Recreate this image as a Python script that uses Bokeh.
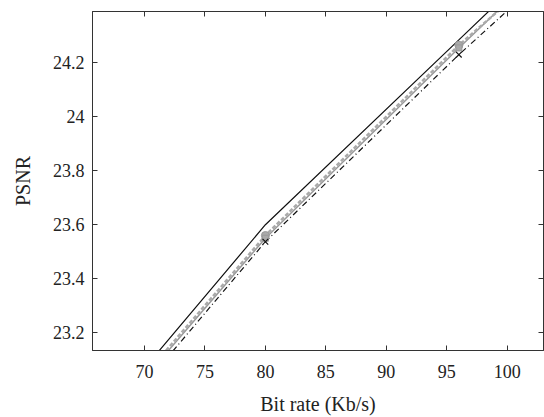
from bokeh.plotting import figure
from bokeh.models import Range1d, FixedTicker, LinearAxis
from bokeh.embed import file_html
from bokeh.resources import INLINE

# Data (bit rate in Kb/s vs PSNR)
bitrate = [64, 80, 96, 112]
psnr_a = [22.75, 23.60, 24.285, 24.97]   # black solid
psnr_b = [22.72, 23.55, 24.255, 24.94]   # gray solid
psnr_c = [22.73, 23.56, 24.265, 24.89]   # gray dashed, circles
psnr_d = [22.69, 23.537, 24.230, 24.88]  # black dash-dot, crosses

x_ticks = [70, 75, 80, 85, 90, 95, 100]
y_ticks = [23.2, 23.4, 23.6, 23.8, 24.0, 24.2]
y_tick_labels = ["23.2", "23.4", "23.6", "23.8", "24", "24.2"]

FONT = "Liberation Serif"

p = figure(width=544, height=417, output_backend="svg", toolbar_location=None,
           x_range=Range1d(65.7, 103.0), y_range=Range1d(23.134, 24.39),
           min_border_left=92, min_border_right=1, min_border_top=11, min_border_bottom=64)

p.grid.visible = False
p.outline_line_color = "#333333"
p.outline_line_width = 1

for ax in (p.xaxis, p.yaxis):
    ax.major_tick_in = 5
    ax.major_tick_out = 0
    ax.minor_tick_line_color = None
    ax.axis_line_color = "#333333"
    ax.major_tick_line_color = "#333333"
    ax.major_label_text_font = FONT
    ax.major_label_text_font_size = "18px"
    ax.major_label_text_color = "#222222"
    ax.axis_label_text_font = FONT
    ax.axis_label_text_font_size = "20px"
    ax.axis_label_text_font_style = "normal"
    ax.axis_label_text_color = "#222222"

p.xaxis.ticker = FixedTicker(ticks=x_ticks)
p.yaxis.ticker = FixedTicker(ticks=y_ticks)
p.yaxis.major_label_overrides = {t: l for t, l in zip(y_ticks, y_tick_labels)}
p.xaxis.axis_label = "Bit rate (Kb/s)"
p.yaxis.axis_label = "PSNR"
p.xaxis.major_label_standoff = 14
p.yaxis.major_label_standoff = 8
p.xaxis.axis_label_standoff = 12
p.yaxis.axis_label_standoff = 16

# mirrored ticks on top and right (labels not drawn)
for loc, tk in (("above", x_ticks), ("right", y_ticks)):
    a = LinearAxis(ticker=FixedTicker(ticks=tk))
    a.major_tick_in = 5
    a.major_tick_out = 0
    a.minor_tick_line_color = None
    a.axis_line_color = "#333333"
    a.major_tick_line_color = "#333333"
    a.major_label_text_font_size = "1px"
    a.major_label_text_color = None
    a.major_label_text_alpha = 0
    a.major_label_standoff = 0
    p.add_layout(a, loc)

p.line(bitrate, psnr_a, line_color="#111111", line_width=1.2)
p.line(bitrate, psnr_b, line_color="#999999", line_width=1.5)
p.line(bitrate, psnr_c, line_color="#aaaaaa", line_width=2.5, line_dash="4 2")
p.line(bitrate, psnr_d, line_color="#111111", line_width=1.2, line_dash="6 3 1 3")
p.scatter(bitrate, psnr_c, marker="circle", size=8, fill_color="#aaaaaa", line_color="#999999")
p.scatter(bitrate, psnr_b, marker="square", size=6, fill_color="#aaaaaa", line_color="#999999")
p.scatter(bitrate, psnr_d, marker="x", size=8, line_color="#111111", line_width=1.2)

open("out.html", "w").write(file_html(p, INLINE))
